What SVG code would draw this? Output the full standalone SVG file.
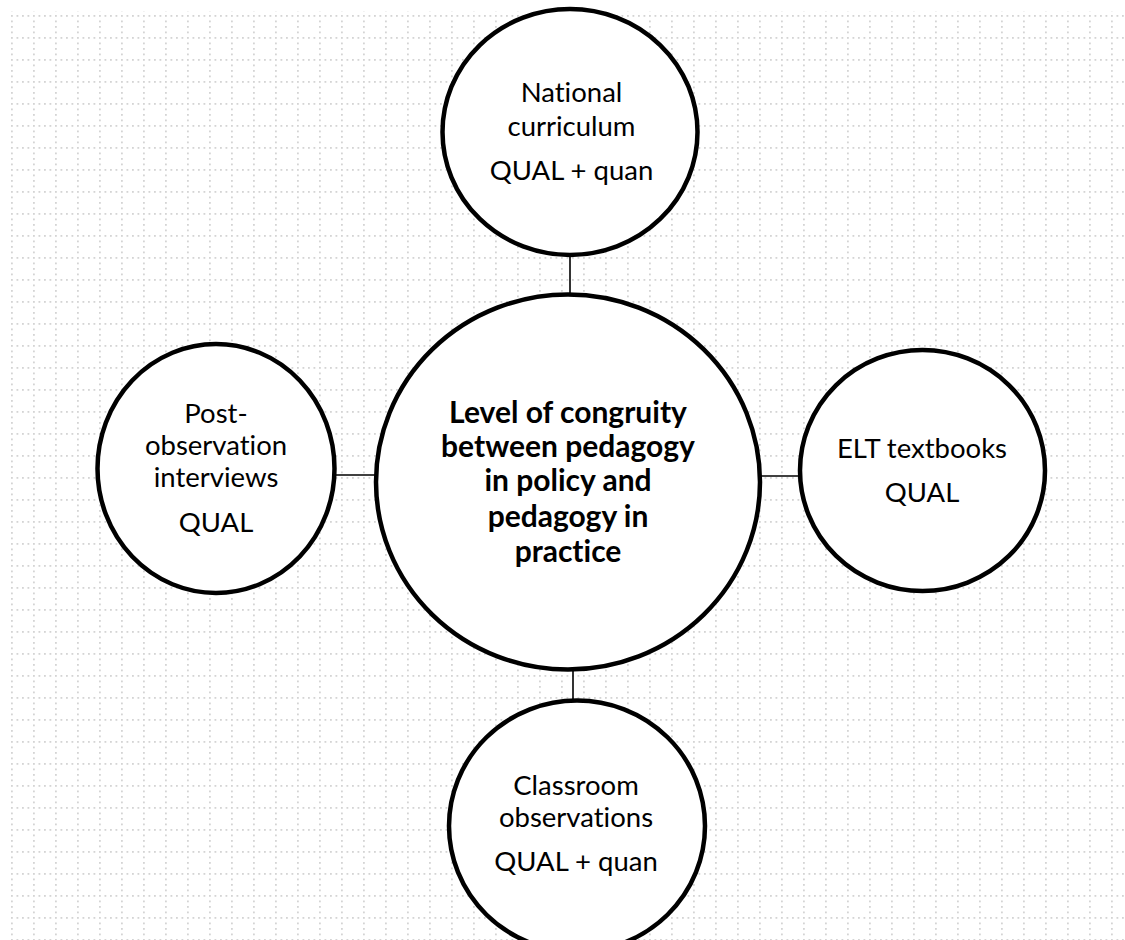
<svg xmlns="http://www.w3.org/2000/svg" width="1125" height="940" viewBox="0 0 1125 940">
<defs>
<pattern id="grid" x="11" y="15" width="22" height="22" patternUnits="userSpaceOnUse">
<g fill="#d4d4d4">
<rect x="0" y="0" width="1.8" height="1.8"/>
<rect x="5.5" y="0" width="1.8" height="1.8"/>
<rect x="11" y="0" width="1.8" height="1.8"/>
<rect x="16.5" y="0" width="1.8" height="1.8"/>
<rect x="0" y="5.5" width="1.8" height="1.8"/>
<rect x="0" y="11" width="1.8" height="1.8"/>
<rect x="0" y="16.5" width="1.8" height="1.8"/>
</g>
</pattern>
<style>
.node{fill:#fff;stroke:#000;stroke-width:4.5}
.conn{stroke:#000;stroke-width:1.6;fill:none}
.t{font-family:Lato,"Liberation Sans",sans-serif;font-size:27.5px;fill:#000;text-anchor:middle;font-variant-ligatures:none}
.b{font-family:Lato,"Liberation Sans",sans-serif;font-size:30px;font-weight:bold;fill:#000;text-anchor:middle;font-variant-ligatures:none}
</style>
</defs>
<rect width="1125" height="940" fill="#fff"/>
<rect x="11" y="11" width="1114" height="929" fill="url(#grid)"/>
<g id="connectors">
<line class="conn" x1="570" y1="255" x2="570" y2="295"/>
<line class="conn" x1="573" y1="668" x2="573" y2="701"/>
<line class="conn" x1="334" y1="475" x2="377" y2="475"/>
<line class="conn" x1="759" y1="476" x2="801" y2="476"/>
</g>
<g id="center">
<ellipse class="node" cx="568" cy="482" rx="192" ry="187.5"/>
<text class="b" x="568" y="423">Level of congruity</text>
<text class="b" x="568" y="456.5">between pedagogy</text>
<text class="b" x="568" y="491">in policy and</text>
<text class="b" x="568" y="527">pedagogy in</text>
<text class="b" x="568" y="562">practice</text>
</g>
<g id="top">
<ellipse class="node" cx="570" cy="132" rx="127.5" ry="123"/>
<text class="t" x="571.5" y="102">National</text>
<text class="t" x="571.5" y="135.5">curriculum</text>
<text class="t" x="571.5" y="180">QUAL + quan</text>
</g>
<g id="left">
<ellipse class="node" cx="216" cy="468.5" rx="118.5" ry="124.5"/>
<text class="t" x="216" y="423">Post-</text>
<text class="t" x="216" y="455">observation</text>
<text class="t" x="216" y="487">interviews</text>
<text class="t" x="216" y="531.5">QUAL</text>
</g>
<g id="right">
<ellipse class="node" cx="922.5" cy="470.5" rx="122.5" ry="120.5"/>
<text class="t" x="922" y="457.5">ELT textbooks</text>
<text class="t" x="922" y="501.5">QUAL</text>
</g>
<g id="bottom">
<ellipse class="node" cx="577" cy="826" rx="128" ry="125.5"/>
<text class="t" x="576" y="795">Classroom</text>
<text class="t" x="576" y="827">observations</text>
<text class="t" x="576" y="871">QUAL + quan</text>
</g>
</svg>
